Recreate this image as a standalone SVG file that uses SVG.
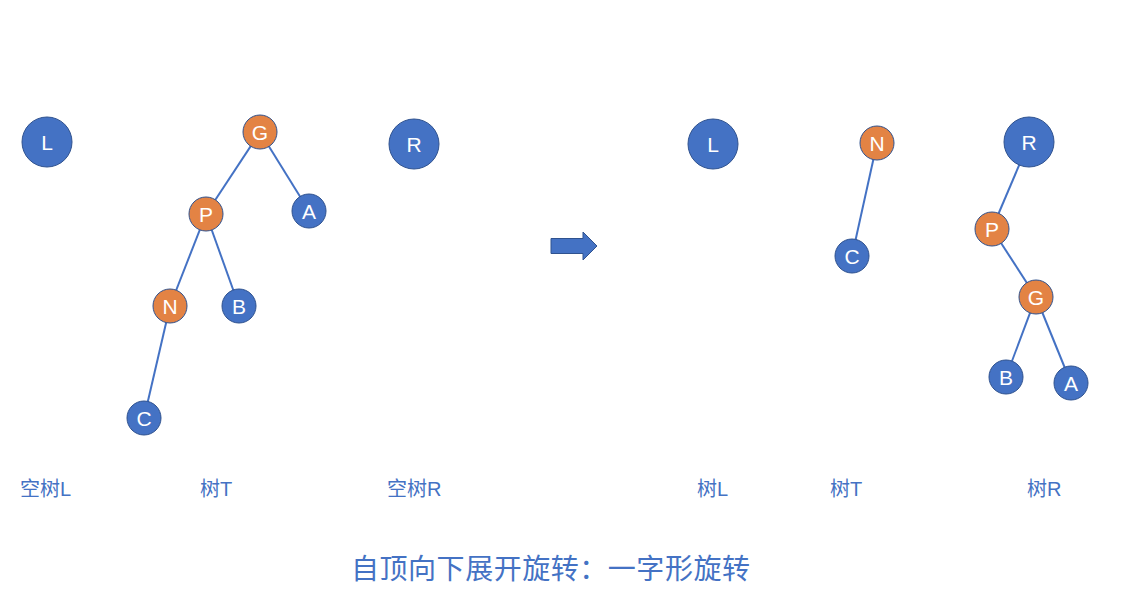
<svg xmlns="http://www.w3.org/2000/svg" width="1122" height="612" viewBox="0 0 1122 612">
<style>
.b{fill:#4472C4;stroke:#2F528F;stroke-width:1}
.o{fill:#E38344;stroke:#2F528F;stroke-width:1}
.t{fill:#fff;font-family:"Liberation Sans","Noto Sans",sans-serif;font-size:21px;text-anchor:middle;dominant-baseline:central}
.lbl{fill:#4472C4;font-family:"Liberation Sans","Noto Sans CJK SC",sans-serif;font-size:20px}
.e{stroke:#4472C4;stroke-width:2}
</style>
<rect width="1122" height="612" fill="#fff"/>
<g id="connectors">
<line class="e" x1="260" y1="132" x2="206" y2="214"/>
<line class="e" x1="260" y1="132" x2="309" y2="211"/>
<line class="e" x1="206" y1="214" x2="170" y2="306"/>
<line class="e" x1="206" y1="214" x2="239" y2="306"/>
<line class="e" x1="170" y1="306" x2="144" y2="418"/>
<line class="e" x1="877" y1="143" x2="852" y2="256"/>
<line class="e" x1="1029" y1="142" x2="992" y2="229"/>
<line class="e" x1="992" y1="229" x2="1036" y2="297"/>
<line class="e" x1="1036" y1="297" x2="1006" y2="377"/>
<line class="e" x1="1036" y1="297" x2="1071" y2="383"/>
</g>
<g id="L1"><circle class="b" cx="47" cy="142" r="25"/><text class="t" x="47" y="142">L</text></g>
<g id="G1"><circle class="o" cx="260" cy="132" r="17"/><text class="t" x="260" y="132">G</text></g>
<g id="P1"><circle class="o" cx="206" cy="214" r="17"/><text class="t" x="206" y="214">P</text></g>
<g id="A1"><circle class="b" cx="309" cy="211" r="17"/><text class="t" x="309" y="211">A</text></g>
<g id="N1"><circle class="o" cx="170" cy="306" r="17"/><text class="t" x="170" y="306">N</text></g>
<g id="B1"><circle class="b" cx="239" cy="306" r="17"/><text class="t" x="239" y="306">B</text></g>
<g id="C1"><circle class="b" cx="144" cy="418" r="17"/><text class="t" x="144" y="418">C</text></g>
<g id="R1"><circle class="b" cx="414" cy="144" r="25"/><text class="t" x="414" y="144">R</text></g>
<g id="arrow"><polygon fill="#4472C4" stroke="#2F528F" stroke-width="1" points="551,238.5 583,238.5 583,232 597,246 583,260 583,253.5 551,253.5"/></g>
<g id="L2"><circle class="b" cx="713" cy="144" r="25"/><text class="t" x="713" y="144">L</text></g>
<g id="N2"><circle class="o" cx="877" cy="143" r="17"/><text class="t" x="877" y="143">N</text></g>
<g id="C2"><circle class="b" cx="852" cy="256" r="17"/><text class="t" x="852" y="256">C</text></g>
<g id="R2"><circle class="b" cx="1029" cy="142" r="25"/><text class="t" x="1029" y="142">R</text></g>
<g id="P2"><circle class="o" cx="992" cy="229" r="17"/><text class="t" x="992" y="229">P</text></g>
<g id="G2"><circle class="o" cx="1036" cy="297" r="17"/><text class="t" x="1036" y="297">G</text></g>
<g id="B2"><circle class="b" cx="1006" cy="377" r="17"/><text class="t" x="1006" y="377">B</text></g>
<g id="A2"><circle class="b" cx="1071" cy="383" r="17"/><text class="t" x="1071" y="383">A</text></g>
<g id="labels">
<text class="lbl" x="20" y="496">空树L</text>
<text class="lbl" x="200" y="496">树T</text>
<text class="lbl" x="387" y="496">空树R</text>
<text class="lbl" x="697" y="496">树L</text>
<text class="lbl" x="830" y="496">树T</text>
<text class="lbl" x="1027" y="496">树R</text>
<text class="lbl" x="351" y="579" textLength="399" lengthAdjust="spacing" style="font-size:28px;font-family:'Noto Sans CJK SC',sans-serif">自顶向下展开旋转：一字形旋转</text>
</g>
</svg>
